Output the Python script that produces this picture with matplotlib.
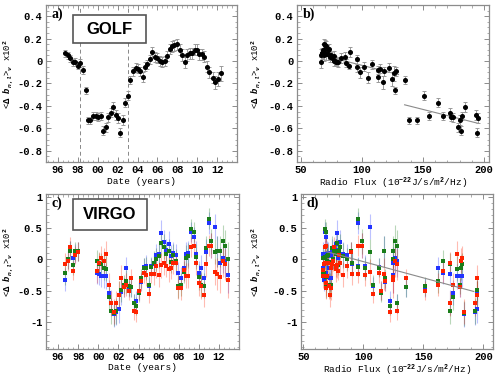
import numpy as np
import matplotlib
matplotlib.use('Agg')
import matplotlib.pyplot as plt
from matplotlib.ticker import MultipleLocator, FixedLocator, FuncFormatter
from matplotlib.patches import Rectangle
from matplotlib.colors import to_rgba

nan = np.nan

# dates of the yearly windows (decimal year)
dates = [1996.73, 1997.00, 1997.23, 1997.50, 1997.73, 1997.97, 1998.23, 1998.47, 1998.77, 1999.00,
         1999.23, 1999.57, 1999.83, 2000.07, 2000.30, 2000.57, 2000.80, 2001.03, 2001.30, 2001.57,
         2001.80, 2002.03, 2002.27, 2002.57, 2002.77, 2003.03, 2003.27, 2003.53, 2003.80, 2004.03,
         2004.27, 2004.53, 2004.77, 2005.00, 2005.27, 2005.50, 2005.77, 2006.00, 2006.27, 2006.50,
         2006.73, 2007.00, 2007.23, 2007.47, 2007.70, 2007.97, 2008.23, 2008.50, 2008.73, 2008.97,
         2009.23, 2009.50, 2009.73, 2009.97, 2010.23, 2010.50, 2010.73, 2011.00, 2011.23, 2011.57,
         2011.83, 2012.10, 2012.37, 2012.62, 2012.87]

# 10.7 cm radio flux for each window
flux = [67.2, 74.8, 75.9, 78.9, 79.8, 89.8, 86.8, 112.9, 127.3, 138.6,
        145.4, 155.0, 166.1, 172.6, 182.1, 181.3, 178.3, 174.8, 172.1, 184.1,
        193.3, 194.7, 194.4, 180.2, 162.0, 151.1, 135.2, 127.9, 122.4, 115.0,
        118.3, 113.4, 101.7, 108.0, 95.8, 90.4, 86.3, 82.8, 78.1, 80.5,
        77.0, 77.3, 73.4, 70.6, 69.8, 68.8, 72.6, 66.6, 66.5, 69.3,
        67.8, 68.5, 68.0, 69.0, 71.0, 72.0, 74.0, 95.8, 98.5, 105.2,
        117.5, 124.4, 126.5, 128.0, 125.0]

golf = [0.07, 0.05, 0.025, -0.01, -0.01, -0.04, -0.015, -0.08, -0.26, -0.53,
        -0.53, -0.49, -0.49, -0.50, -0.49, -0.62, -0.59, -0.50, -0.46, -0.41,
        -0.48, -0.51, -0.64, -0.525, -0.37, -0.31, -0.17, -0.09, -0.06, -0.07,
        -0.09, -0.14, -0.05, -0.03, 0.015, 0.08, 0.04, 0.03, 0.0, -0.01,
        0.0, 0.045, 0.11, 0.13, 0.14, 0.15, 0.10, 0.055, -0.01, 0.055,
        0.07, 0.07, 0.10, 0.10, 0.06, 0.06, 0.04, -0.05, -0.10, -0.15,
        -0.19, -0.16, -0.11, nan, nan]
golf_err = [0.03, 0.03, 0.03, 0.03, 0.035, 0.035, 0.035, 0.035, 0.03, 0.035,
            0.035, 0.035, 0.035, 0.035, 0.035, 0.04, 0.04, 0.04, 0.04, 0.045,
            0.045, 0.045, 0.04, 0.045, 0.04, 0.04, 0.035, 0.04, 0.04, 0.04,
            0.04, 0.045, 0.04, 0.04, 0.04, 0.045, 0.045, 0.045, 0.045, 0.045,
            0.045, 0.045, 0.045, 0.045, 0.05, 0.05, 0.05, 0.05, 0.05, 0.05,
            0.05, 0.05, 0.05, 0.05, 0.05, 0.05, 0.05, 0.05, 0.05, 0.05,
            0.06, 0.06, 0.065, nan, nan]

virgo_blue = [-0.32, 0.0, 0.15, 0.02, 0.09, 0.12, nan, nan, nan, nan,
              nan, nan, -0.21, -0.23, -0.26, -0.26, -0.27, -0.53, -0.69, -0.87,
              -0.84, -0.79, -0.52, -0.44, -0.14, -0.45, -0.44, -0.70, -0.66, -0.50,
              -0.36, -0.12, -0.11, -0.43, -0.11, -0.08, 0.07, 0.08, 0.42, 0.27,
              0.15, 0.25, 0.05, 0.10, 0.07, -0.22, -0.30, -0.14, 0.08, 0.10,
              0.43, 0.35, 0.09, -0.22, -0.13, -0.30, 0.12, 0.58, 0.22, 0.52,
              0.13, -0.05, 0.03, -0.03, -0.25]
virgo_green = [-0.22, 0.0, 0.14, -0.09, 0.13, 0.13, nan, nan, nan, nan,
               nan, nan, -0.03, -0.08, -0.08, -0.13, -0.15, -0.60, -0.82, -0.86,
               -0.82, -0.57, -0.48, -0.40, -0.35, -0.43, -0.44, -0.70, -0.74, -0.53,
               -0.30, -0.13, -0.14, -0.40, -0.12, -0.05, 0.00, 0.06, 0.26, 0.20,
               0.08, 0.13, -0.04, 0.07, -0.02, -0.43, -0.40, -0.20, 0.03, 0.06,
               0.48, 0.43, 0.04, -0.28, -0.40, -0.42, 0.18, 0.65, 0.29, 0.12,
               0.13, 0.13, 0.30, 0.22, 0.00]
virgo_red = [-0.07, -0.03, 0.20, -0.18, 0.07, 0.12, nan, nan, nan, nan,
             nan, nan, -0.19, -0.06, 0.03, -0.02, 0.09, -0.41, -0.70, -0.83,
             -0.70, -0.56, -0.29, -0.44, -0.40, -0.50, -0.30, -0.82, -0.84, -0.50,
             -0.35, -0.22, -0.24, -0.55, -0.23, -0.23, -0.11, -0.24, -0.09, -0.05,
             -0.10, -0.16, -0.13, -0.05, -0.06, -0.45, -0.46, -0.17, -0.26, -0.26,
             0.20, 0.22, -0.05, -0.38, -0.43, -0.56, -0.08, 0.22, 0.22, -0.20,
             -0.23, -0.28, -0.03, -0.08, -0.33]
virgo_err = [0.18, 0.15, 0.15, 0.15, 0.15, 0.15, nan, nan, nan, nan,
             nan, nan, 0.18, 0.18, 0.18, 0.2, 0.2, 0.2, 0.2, 0.2,
             0.2, 0.22, 0.2, 0.15, 0.18, 0.15, 0.15, 0.15, 0.15, 0.15,
             0.15, 0.15, 0.18, 0.15, 0.15, 0.18, 0.18, 0.2, 0.2, 0.2,
             0.18, 0.2, 0.18, 0.18, 0.18, 0.18, 0.18, 0.18, 0.2, 0.2,
             0.16, 0.16, 0.2, 0.2, 0.2, 0.2, 0.2, 0.17, 0.2, 0.2,
             0.25, 0.25, 0.25, 0.25, 0.28]

# linear fits read off panels b) and d)
fit_b_low_x, fit_b_low_y = [68, 130], [0.05, -0.12]
fit_b_high_x, fit_b_high_y = [135, 195], [-0.39, -0.555]
fit_d_x, fit_d_y = [68, 192], [0.13, -0.51]

# dashed lines marking the low-frequency change
golf_marks = [1998.2, 2003.0]
year_ticks = [1996, 1998, 2000, 2002, 2004, 2006, 2008, 2010, 2012]

plt.rcParams['font.family'] = ['Liberation Mono', 'DejaVu Sans']
plt.rcParams['font.weight'] = 'bold'
plt.rcParams['mathtext.fontset'] = 'custom'
plt.rcParams['mathtext.rm'] = 'Liberation Mono:bold'
plt.rcParams['mathtext.it'] = 'Liberation Mono:bold:italic'
plt.rcParams['mathtext.bf'] = 'Liberation Mono:bold'

fig = plt.figure(figsize=(4.98, 3.79), dpi=100)
ax_a = fig.add_axes([0.0924, 0.5726, 0.3835, 0.4142])
ax_b = fig.add_axes([0.5964, 0.5726, 0.3855, 0.4142])
ax_c = fig.add_axes([0.0924, 0.080, 0.3876, 0.408])
ax_d = fig.add_axes([0.6044, 0.080, 0.3855, 0.408])

ylab = r'<$\Delta$ $b_{n,l}$>$_{\nu}$ x10$^{2}$'
flux_lab = r'Radio Flux (10$^{-22}$J/s/m$^{2}$/Hz)'
colors = {'blue': '#2233ff', 'green': '#1a7d1a', 'red': '#ff2200'}


def num(v, pos):
    s = f'{v:.2f}'.rstrip('0').rstrip('.')
    return '0' if s in ('0', '-0') else s


def yr(v, pos):
    return f'{int(round(v)) % 100:02d}'


def frame(ax, label, xlabel, ymaj, ymin, ylab_x, xlab_y):
    for sp in ax.spines.values():
        sp.set_color('#8c8c8c')
        sp.set_linewidth(0.9)
    ax.tick_params(which='both', direction='in', top=True, right=True, color='#8c8c8c',
                   labelsize=7.5, pad=2.5)
    ax.tick_params(which='major', length=3.5, width=0.7)
    ax.tick_params(which='minor', length=1.8, width=0.5)
    ax.yaxis.set_major_locator(MultipleLocator(ymaj))
    ax.yaxis.set_minor_locator(MultipleLocator(ymin))
    ax.yaxis.set_major_formatter(FuncFormatter(num))
    ax.set_xlabel(xlabel, fontsize=6.8)
    ax.set_ylabel(ylab, fontsize=6.4)
    ax.yaxis.set_label_coords(ylab_x, 0.56)
    ax.xaxis.set_label_coords(0.5, xlab_y)
    ax.text(0.03, 0.985, label, transform=ax.transAxes, va='top', ha='left',
            fontsize=10, family='Liberation Serif', fontweight='bold')


def name_box(ax, text, x0, y0, w, h):
    ax.add_patch(Rectangle((x0, y0), w, h, transform=ax.transAxes, facecolor='white',
                           edgecolor='#555555', linewidth=1.2, zorder=5))
    ax.text(x0 + w / 2, y0 + h / 2, text, transform=ax.transAxes, ha='center', va='center',
            fontsize=12, family='Liberation Sans', fontweight='bold', zorder=6)


def golf_plot(ax, x):
    ax.errorbar(x, golf, yerr=golf_err, fmt='o', color='black', ms=2.6, ecolor='#9a9a9a',
                elinewidth=0.7, capsize=1.6, capthick=0.7, zorder=3)


def virgo_plot(ax, x):
    for vals, key in [(virgo_blue, 'blue'), (virgo_green, 'green'), (virgo_red, 'red')]:
        c = colors[key]
        ax.errorbar(x, vals, yerr=virgo_err, fmt='s', color=c, ms=2.6, mew=0,
                    ecolor=to_rgba(c, 0.3), elinewidth=0.8, capsize=1.6, capthick=0.7, zorder=3)


# a) GOLF versus time
golf_plot(ax_a, dates)
for m in golf_marks:
    ax_a.axvline(m, color='#888888', ls=(0, (4, 3)), lw=0.7, zorder=1)
ax_a.set_xlim(1994.8, 2014.0)
ax_a.set_ylim(-0.9, 0.5)
ax_a.xaxis.set_major_locator(FixedLocator(year_ticks))
ax_a.xaxis.set_minor_locator(MultipleLocator(0.5))
ax_a.xaxis.set_major_formatter(FuncFormatter(yr))
frame(ax_a, 'a)', 'Date (years)', 0.2, 0.05, -0.165, -0.093)
name_box(ax_a, 'GOLF', 0.141, 0.758, 0.382, 0.178)

# b) GOLF versus radio flux
golf_plot(ax_b, flux)
ax_b.plot(fit_b_low_x, fit_b_low_y, color='#8a8a8a', lw=0.8, zorder=2)
ax_b.plot(fit_b_high_x, fit_b_high_y, color='#8a8a8a', lw=0.8, zorder=2)
ax_b.set_xlim(47, 204)
ax_b.set_ylim(-0.9, 0.5)
ax_b.xaxis.set_major_locator(MultipleLocator(50))
ax_b.xaxis.set_minor_locator(MultipleLocator(10))
frame(ax_b, 'b)', flux_lab, 0.2, 0.05, -0.177, -0.09)

# c) VIRGO versus time
virgo_plot(ax_c, dates)
ax_c.set_xlim(1994.8, 2014.0)
ax_c.set_ylim(-1.42, 1.04)
ax_c.xaxis.set_major_locator(FixedLocator(year_ticks))
ax_c.xaxis.set_minor_locator(MultipleLocator(0.5))
ax_c.xaxis.set_major_formatter(FuncFormatter(yr))
frame(ax_c, 'c)', 'Date (years)', 0.5, 0.1, -0.16, -0.093)
name_box(ax_c, 'VIRGO', 0.138, 0.766, 0.383, 0.2)

# d) VIRGO versus radio flux
virgo_plot(ax_d, flux)
ax_d.plot(fit_d_x, fit_d_y, color='#8a8a8a', lw=0.8, zorder=4)
ax_d.set_xlim(48, 208)
ax_d.set_ylim(-1.42, 1.04)
ax_d.xaxis.set_major_locator(MultipleLocator(50))
ax_d.xaxis.set_minor_locator(MultipleLocator(10))
frame(ax_d, 'd)', flux_lab, 0.5, 0.1, -0.198, -0.09)

fig.savefig('out.png', dpi=100)
